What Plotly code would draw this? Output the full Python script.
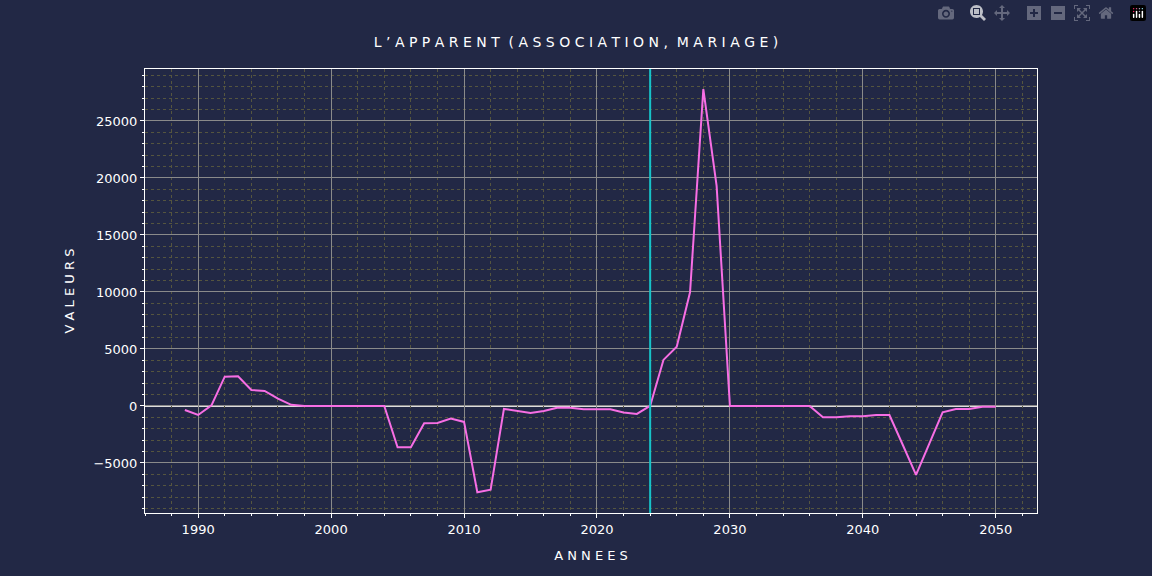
import plotly.graph_objects as go

years = list(range(1989, 2051))
values = [-350, -790, 50, 2570, 2600, 1400, 1320, 640, 100,
          0, 0, 0, 0, 0, 0, 0,
          -3630, -3630, -1520, -1500, -1110, -1400, -7570, -7340,
          -260, -410, -610, -440, -150, -150, -290, -290, -290, -580, -700,
          0, 4040, 5200, 9970, 27800, 19300,
          0, 0, 0, 0, 0, 0, 0,
          -990, -990, -900, -900, -790, -790, -3400, -6050, -3300,
          -560, -260, -260, -60, -60]
marker_year = 2024

def spaced(s):
    return " ".join(s)

bg = "#222845"
fig = go.Figure()
fig.add_trace(go.Scatter(x=years, y=values, mode="lines",
                         line=dict(color="#f76ee4", width=2), showlegend=False))
fig.add_hline(y=0, line=dict(color="#dddddd", width=2), layer="below")
fig.add_vline(x=marker_year, line=dict(color="#17c3c8", width=2))

axis_common = dict(showline=True, linecolor="white", mirror=True, linewidth=1,
                   gridcolor="#8a8a8a", gridwidth=1, zeroline=False,
                   ticks="outside", tickcolor="white", ticklen=4,
                   tickfont=dict(color="white", size=13))
fig.update_xaxes(range=[1986, 2053.1], dtick=10,
                 minor=dict(dtick=2, showgrid=True, gridcolor="#55553f", griddash="dot",
                            ticks="outside", ticklen=2, tickcolor="white"),
                 title=dict(text=spaced("ANNEES"), font=dict(color="white", size=13)),
                 **axis_common)
fig.update_yaxes(range=[-9390, 29560], dtick=5000, tickformat="d",
                 minor=dict(dtick=1000, showgrid=True, gridcolor="#55553f", griddash="dot",
                            ticks="outside", ticklen=2, tickcolor="white"),
                 title=dict(text=spaced("VALEURS"), font=dict(color="white", size=13)),
                 **axis_common)
fig.update_layout(
    width=1152, height=576, paper_bgcolor=bg, plot_bgcolor=bg,
    font=dict(family="DejaVu Sans", color="white"),
    title=dict(text=spaced("L’APPARENT (ASSOCIATION, MARIAGE)").replace("  ", " "),
               x=0.5, xanchor="center", y=0.935, font=dict(size=14, color="white")),
    margin=dict(l=145, r=115, t=69, b=63),
)
fig.write_html("out.html", post_script="document.body.style.margin='0';document.body.style.overflow='hidden';")
